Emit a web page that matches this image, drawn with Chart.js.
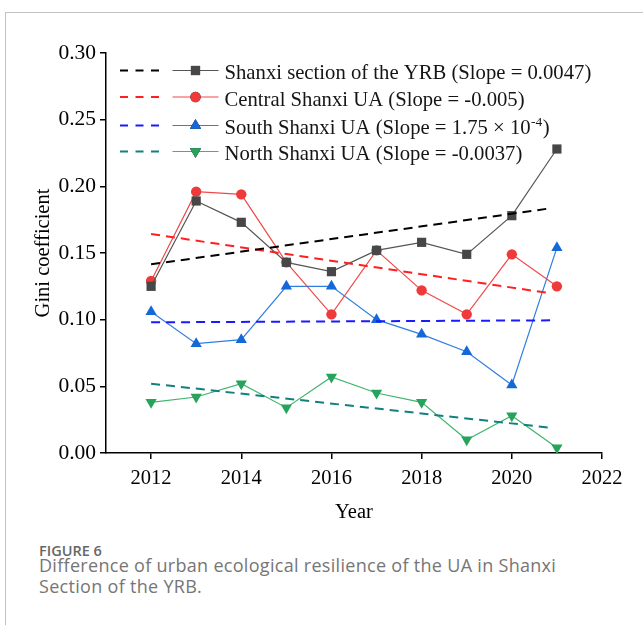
<!DOCTYPE html>
<html>
<head>
<meta charset="utf-8">
<script src="https://cdn.jsdelivr.net/npm/chart.js@4.4.1/dist/chart.umd.min.js"></script>
<style>
  html, body { margin: 0; padding: 0; background: #fff; }
  body { width: 643px; height: 625px; position: relative; overflow: hidden; }
  #frame { position: absolute; left: 5px; top: 12px; right: -2px; bottom: -2px;
           border-left: 1px solid #c2c2c2; border-top: 1px solid #c2c2c2; }
  #c { position: absolute; left: 0; top: 0; }
  .cap { position: absolute; left: 39px; font-family: "Open Sans", sans-serif; white-space: nowrap; }
  #fig { top: 541px; font-size: 14.5px; line-height: 20px; font-weight: 600; color: #666; }
  #desc { top: 555px; font-size: 18px; line-height: 21px; letter-spacing: 0.3px; color: #767676; }
</style>
</head>
<body>
<div id="frame"></div>
<canvas id="c" width="643" height="530"></canvas>
<div class="cap" id="fig">FIGURE 6</div>
<div class="cap" id="desc">Difference of urban ecological resilience of the UA in Shanxi<br>Section of the YRB.</div>
<script>
// Gini coefficient of urban ecological resilience, 2012–2021
const years = [2012, 2013, 2014, 2015, 2016, 2017, 2018, 2019, 2020, 2021];
const shanxiYRB  = [0.125, 0.189, 0.173, 0.143, 0.136, 0.152, 0.158, 0.149, 0.178, 0.228];
const centralUA  = [0.129, 0.196, 0.194, 0.143, 0.104, 0.152, 0.122, 0.104, 0.149, 0.125];
const southUA    = [0.106, 0.082, 0.085, 0.125, 0.125, 0.100, 0.089, 0.076, 0.051, 0.154];
const northUA    = [0.038, 0.042, 0.052, 0.034, 0.057, 0.045, 0.038, 0.010, 0.028, 0.004];

// Linear trend lines (start / end of the drawn fit)
const trendYears   = [2012, 2020.85];
const shanxiTrend  = [0.1415, 0.1835];
const centralTrend = [0.1643, 0.1198];
const southTrend   = [0.0980, 0.0995];
const northTrend   = [0.0520, 0.0190];

const xTicks = [2012, 2014, 2016, 2018, 2020, 2022];
const yTicks = [0, 0.05, 0.10, 0.15, 0.20, 0.25, 0.30];

// Legend labels; the third one carries a superscript exponent
const legendLabels = [
  [{ t: 'Shanxi section of the YRB (Slope = 0.0047)' }],
  [{ t: 'Central Shanxi UA (Slope = -0.005)' }],
  [{ t: 'South Shanxi UA (Slope = 1.75 \u00d7 10' }, { t: '-4', sup: true }, { t: ')' }],
  [{ t: 'North Shanxi UA (Slope = -0.0037)' }]
];

const serif = '"Liberation Serif", "Times New Roman", serif';

function pts(xs, ys) { return xs.map((x, i) => ({ x: x, y: ys[i] })); }

function series(values, lineColor, markColor, style, rotation) {
  return {
    data: pts(years, values),
    borderColor: lineColor,
    borderWidth: 1.2,
    pointStyle: style,
    pointRotation: rotation || 0,
    pointRadius: style === 'circle' ? 5.2 : 6.5,
    pointBackgroundColor: markColor,
    pointBorderColor: markColor,
    pointBorderWidth: 0,
    tension: 0,
    fill: false,
    clip: false
  };
}

function trend(values, color) {
  return {
    data: pts(trendYears, values),
    borderColor: color,
    borderWidth: 2,
    borderDash: [9, 6],
    pointRadius: 0,
    tension: 0,
    fill: false
  };
}

const datasets = [
  trend(shanxiTrend, '#000000'),
  trend(centralTrend, '#ff1f1f'),
  trend(southTrend, '#1a1aff'),
  trend(northTrend, '#11807e'),
  series(shanxiYRB, '#555555', '#474747', 'rect'),
  series(centralUA, '#f04848', '#ee3a3a', 'circle'),
  series(southUA, '#2f7ee0', '#1468d8', 'triangle'),
  series(northUA, '#3fb56c', '#27a35c', 'triangle', 180)
];

// Legend: dashed trend sample, solid line with marker, then the label
const legendPlugin = {
  id: 'slopeLegend',
  afterDraw(chart) {
    const ctx = chart.ctx;
    const rows = [70.5, 97, 125.5, 151.5];
    ctx.save();
    rows.forEach((y, i) => {
      const tr = chart.data.datasets[i];
      const se = chart.data.datasets[i + 4];
      // dashed sample
      ctx.beginPath();
      ctx.setLineDash([8, 7.5]);
      ctx.lineWidth = 2;
      ctx.strokeStyle = tr.borderColor;
      ctx.moveTo(120, y); ctx.lineTo(159.5, y);
      ctx.stroke();
      ctx.setLineDash([]);
      // solid sample
      ctx.beginPath();
      ctx.lineWidth = 1.2;
      ctx.strokeStyle = se.borderColor;
      ctx.moveTo(172.5, y); ctx.lineTo(218.5, y);
      ctx.stroke();
      Chart.helpers.drawPoint(ctx, {
        pointStyle: se.pointStyle,
        rotation: se.pointRotation,
        radius: se.pointRadius,
        borderWidth: 0
      }, 195.5, y);
      ctx.fillStyle = se.pointBackgroundColor;
      ctx.fill();
      // label text
      let x = 224.5;
      ctx.fillStyle = '#151515';
      ctx.textBaseline = 'alphabetic';
      ctx.textAlign = 'left';
      legendLabels[i].forEach(part => {
        if (part.sup) {
          ctx.font = '13.5px ' + serif;
          ctx.fillText(part.t, x + 0.5, y + 0.5);
          x += ctx.measureText(part.t).width + 1;
        } else {
          ctx.font = '20.7px ' + serif;
          ctx.fillText(part.t, x, y + 8.5);
          x += ctx.measureText(part.t).width;
        }
      });
    });
    ctx.restore();
  }
};

new Chart(document.getElementById('c'), {
  type: 'line',
  data: { datasets: datasets },
  options: {
    responsive: false,
    animation: false,
    layout: { padding: { top: 53, right: 41, bottom: 0, left: 0 } },
    plugins: { legend: { display: false }, tooltip: { enabled: false } },
    scales: {
      x: {
        type: 'linear',
        min: 2011,
        max: 2022,
        afterFit(s) { s.height = 77; },
        afterBuildTicks(s) { s.ticks = xTicks.map(v => ({ value: v })); },
        ticks: {
          callback: v => String(v),
          font: { family: serif, size: 20.5 },
          color: '#000',
          padding: 7,
          maxRotation: 0,
          autoSkip: false
        },
        grid: { display: true, drawOnChartArea: false, drawTicks: true, tickLength: 6, color: '#000', lineWidth: 1.5 },
        border: { display: true, color: '#000', width: 1.5 },
        title: { display: true, text: 'Year', font: { family: serif, size: 20.5 }, color: '#000', padding: { top: 4, bottom: 5 } }
      },
      y: {
        min: 0,
        max: 0.3,
        afterFit(s) { s.width = 106; },
        afterBuildTicks(s) { s.ticks = yTicks.map(v => ({ value: v })); },
        ticks: {
          callback: v => Number(v).toFixed(2),
          font: { family: serif, size: 21.5 },
          color: '#000',
          padding: 4
        },
        grid: { display: true, drawOnChartArea: false, drawTicks: true, tickLength: 6, color: '#000', lineWidth: 1.5 },
        border: { display: true, color: '#000', width: 1.5 },
        title: { display: true, text: 'Gini coefficient', font: { family: serif, size: 20.5 }, color: '#000', padding: { top: 31, bottom: 0 } }
      }
    }
  },
  plugins: [legendPlugin]
});
</script>
</body>
</html>
